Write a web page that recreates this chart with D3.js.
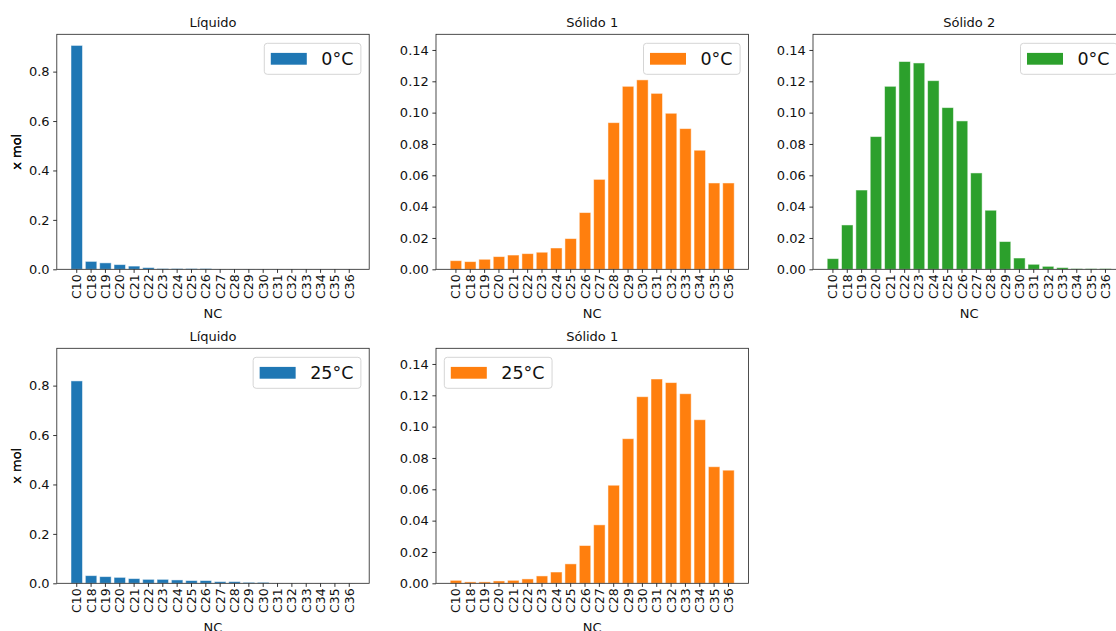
<!DOCTYPE html>
<html>
<head>
<meta charset="utf-8">
<script src="https://cdn.jsdelivr.net/npm/d3@7"></script>
<style>
  html, body { margin: 0; padding: 0; background: #fff; }
  svg { display: block; font-family: "DejaVu Sans", sans-serif; }
</style>
</head>
<body>
<svg id="chart" width="1116" height="631"></svg>
<script>
// ---------- data ----------
const categories = ["C10","C18","C19","C20","C21","C22","C23","C24","C25","C26",
                    "C27","C28","C29","C30","C31","C32","C33","C34","C35","C36"];

const liquido0 = [0.906, 0.032, 0.026, 0.019, 0.013, 0.007, 0.003, 0.003, 0.003, 0.003,
                  0.0005, 0.0005, 0.0005, 0.0005, 0.0004, 0.0003, 0.0003, 0.0002, 0.0002, 0.0002];
const solido1_0 = [0.0055, 0.0049, 0.0064, 0.0081, 0.0091, 0.0100, 0.0109, 0.0136, 0.0196, 0.0362,
                   0.0574, 0.0936, 0.1168, 0.1209, 0.1123, 0.0996, 0.0898, 0.0760, 0.0551, 0.0551];
const solido2_0 = [0.0068, 0.0283, 0.0506, 0.0847, 0.1168, 0.1326, 0.1317, 0.1204, 0.1032, 0.0947,
                   0.0615, 0.0377, 0.0177, 0.0072, 0.0032, 0.0019, 0.0011, 0.0004, 0.0004, 0.0004];
const liquido25 = [0.819, 0.031, 0.027, 0.024, 0.019, 0.016, 0.016, 0.0136, 0.011, 0.011,
                   0.0068, 0.0068, 0.004, 0.004, 0.0005, 0.0004, 0.0004, 0.0003, 0.0003, 0.0003];
const solido1_25 = [0.0019, 0.0009, 0.0009, 0.0015, 0.0019, 0.0028, 0.0047, 0.0072, 0.0124, 0.0241,
                    0.0373, 0.0626, 0.0923, 0.1191, 0.1304, 0.1281, 0.1210, 0.1044, 0.0744, 0.0722];

const liqTicks = [0, 0.2, 0.4, 0.6, 0.8];
const solTicks = [0, 0.02, 0.04, 0.06, 0.08, 0.10, 0.12, 0.14];
const titles = ["Líquido", "Sólido 1", "Sólido 2", "Líquido", "Sólido 1"];
const legendLabels = ["0°C", "0°C", "0°C", "25°C", "25°C"];
const colors = ["#1f77b4", "#ff7f0e", "#2ca02c", "#1f77b4", "#ff7f0e"];

// ---------- layout ----------
const colLeft = [56.8, 436, 813];
const rowTop = [34.3, 348.3];
const axW = 312.4, axH = 235;

const panels = [
  {row:0, col:0, values: liquido0,   ymax: 0.951, ticks: liqTicks, fmt: ".1f", legend: "right"},
  {row:0, col:1, values: solido1_0,  ymax: 0.15,  ticks: solTicks, fmt: ".2f", legend: "right"},
  {row:0, col:2, values: solido2_0,  ymax: 0.15,  ticks: solTicks, fmt: ".2f", legend: "right"},
  {row:1, col:0, values: liquido25,  ymax: 0.951, ticks: liqTicks, fmt: ".1f", legend: "right"},
  {row:1, col:1, values: solido1_25, ymax: 0.15,  ticks: solTicks, fmt: ".2f", legend: "left"}
];

const svg = d3.select("#chart");
const root = svg.append("g");

panels.forEach((p, i) => {
  const left = colLeft[p.col];
  const top = rowTop[p.row];
  const h = axH;
  const g = root.append("g").attr("transform", `translate(${left},${top})`);

  const x = d3.scaleBand().domain(categories).range([0, axW])
              .paddingInner(0.2).paddingOuter(0.99).align(0.5);
  const y = d3.scaleLinear().domain([0, p.ymax]).range([h, 0]);

  // bars
  g.selectAll("rect.bar").data(p.values).enter().append("rect")
    .attr("class", "bar")
    .attr("x", (d, k) => x(categories[k]))
    .attr("width", x.bandwidth())
    .attr("y", d => y(d))
    .attr("height", d => h - y(d))
    .attr("fill", colors[i])
    .attr("stroke", "#ffffff")
    .attr("stroke-opacity", 0.55)
    .attr("stroke-width", 0.9);

  // y axis
  const yAxis = g.append("g")
    .call(d3.axisLeft(y).tickValues(p.ticks).tickFormat(d3.format(p.fmt))
          .tickSize(3.6).tickPadding(3.6).tickSizeOuter(0));
  yAxis.select(".domain").remove();
  yAxis.selectAll("line").attr("stroke", "#000").attr("stroke-width", 0.8);
  yAxis.selectAll("text").attr("font-size", 13).attr("fill", "#111")
       .attr("font-family", "DejaVu Sans");

  // x axis
  const xAxis = g.append("g").attr("transform", `translate(0,${h})`)
    .call(d3.axisBottom(x).tickSize(3.6).tickSizeOuter(0));
  xAxis.select(".domain").remove();
  xAxis.selectAll("line").attr("stroke", "#000").attr("stroke-width", 0.8);
  xAxis.selectAll("text")
    .attr("font-size", 12.5).attr("fill", "#111").attr("font-family", "DejaVu Sans")
    .attr("transform", "rotate(-90)")
    .attr("text-anchor", "end")
    .attr("x", -5).attr("y", 0).attr("dy", "0.36em");

  // frame
  g.append("rect").attr("x", 0).attr("y", 0).attr("width", axW).attr("height", h)
    .attr("fill", "none").attr("stroke", "#222").attr("stroke-width", 0.8);

  // title
  g.append("text").attr("x", axW / 2).attr("y", -7.3)
    .attr("text-anchor", "middle").attr("font-size", 13).attr("fill", "#111")
    .text(titles[i]);

  // axis labels
  g.append("text").attr("transform", `translate(${21 - left},${h / 2}) rotate(-90)`)
    .attr("text-anchor", "middle").attr("font-size", 13).attr("fill", "#111")
    .text("x mol");
  g.append("text").attr("x", axW / 2).attr("y", h + 48.5)
    .attr("text-anchor", "middle").attr("font-size", 13).attr("fill", "#111")
    .text("NC");

  // legend
  const fs = 17.5;
  const lg = g.append("g");
  const txt = lg.append("text").attr("font-size", fs).attr("fill", "#111")
    .text(legendLabels[i]);
  const tw = txt.node().getComputedTextLength();
  const padL = 6.5, patchW = 36, gap = 14.5, padR = 7.5;
  const bw = padL + patchW + gap + tw + padR;
  const bh = 31;
  const bx = p.legend === "right" ? axW - 8.3 - bw : 8.3;
  const by = 9;
  lg.insert("rect", "text").attr("x", bx).attr("y", by).attr("width", bw).attr("height", bh)
    .attr("rx", 3).attr("fill", "#fff").attr("fill-opacity", 0.8)
    .attr("stroke", "#d5d5d5").attr("stroke-width", 1);
  const ph = 11.8;
  lg.insert("rect", "text").attr("x", bx + padL).attr("y", by + bh / 2 - ph / 2)
    .attr("width", patchW).attr("height", ph).attr("fill", colors[i]);
  txt.attr("x", bx + padL + patchW + gap).attr("y", by + bh / 2).attr("dy", "0.36em");
});
</script>
</body>
</html>
